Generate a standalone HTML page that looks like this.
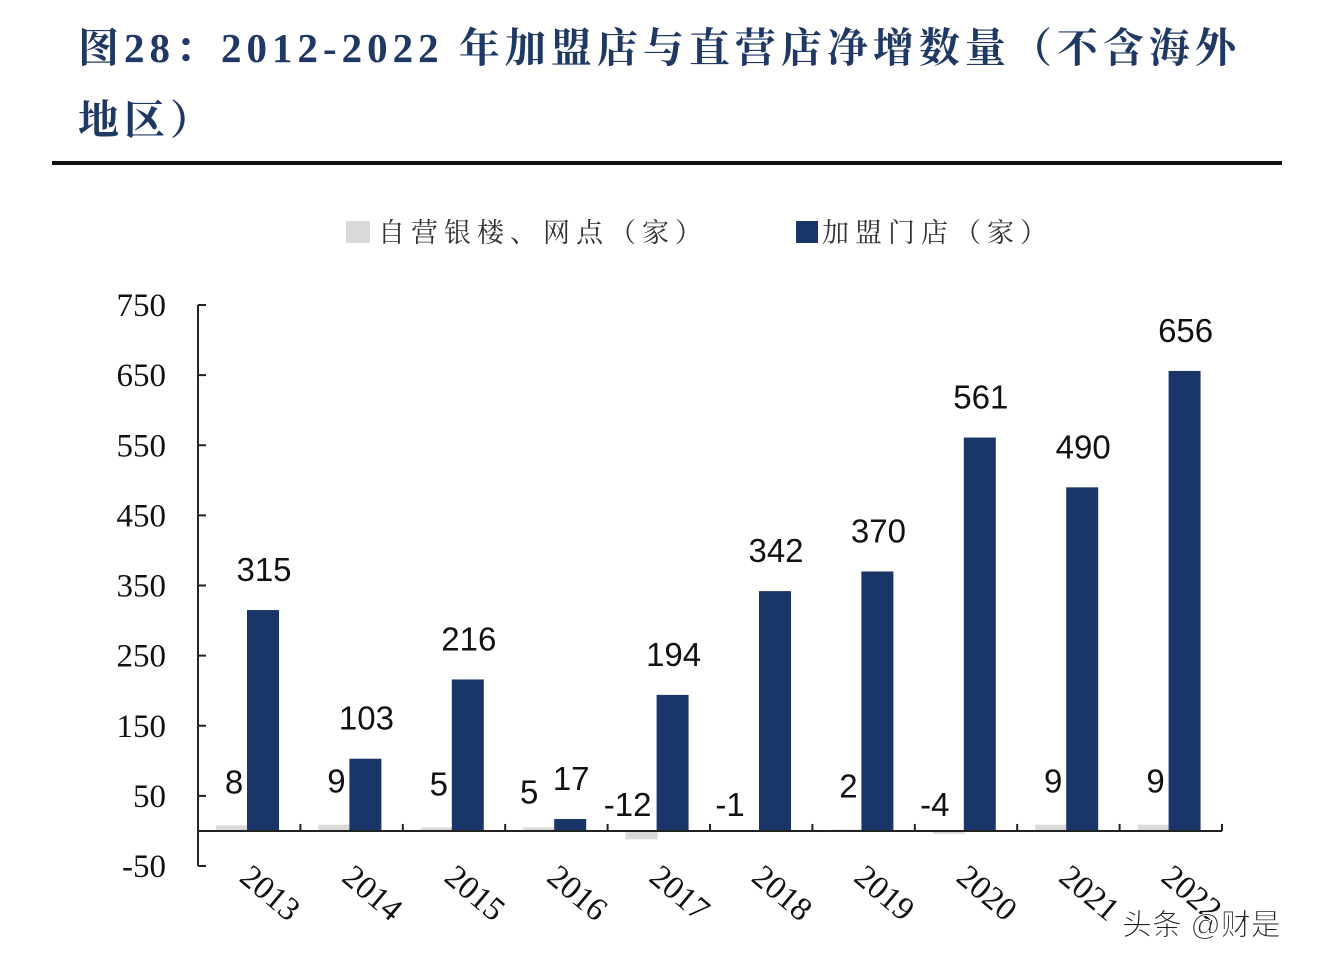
<!DOCTYPE html>
<html><head><meta charset="utf-8">
<style>
body{margin:0;background:#fff;width:1326px;height:968px;overflow:hidden;position:relative;font-family:"Liberation Serif","Noto Serif CJK SC",serif;}
#title{position:absolute;left:78px;top:12px;width:1240px;font-size:41px;font-weight:bold;color:#1f3864;line-height:72px;letter-spacing:5px;white-space:nowrap;}
#rule{position:absolute;left:52px;top:161px;width:1230px;height:4px;background:#111;}
</style></head><body>
<div id="title">图28：2012-2022 年加盟店与直营店净增数量（不含海外<br>地区）</div>
<div id="rule"></div>
<svg id="chart" width="1326" height="968" style="position:absolute;left:0;top:0"></svg>
<script>
const categories=["2013","2014","2015","2016","2017","2018","2019","2020","2021","2022"];
const directValues=[8,9,5,5,-12,-1,2,-4,9,9];
const franchiseValues=[315,103,216,17,194,342,370,561,490,656];
const yTicks=[750,650,550,450,350,250,150,50,-50];
const NS="http://www.w3.org/2000/svg";
const svg=document.getElementById('chart');
const x0=198,x1=1222,yTop=305,yBot=866,vMax=750,vMin=-50;
const y=v=>yTop+(vMax-v)*(yBot-yTop)/(vMax-vMin);
const bw=(x1-x0)/categories.length;
const xc=i=>x0+i*bw;
function mk(t,a){const e=document.createElementNS(NS,t);for(const k in a)e.setAttribute(k,a[k]);svg.appendChild(e);return e;}
let e=mk('rect',{x:346,y:221,width:24,height:22,fill:'#d9d9d9'});

e=mk('text',{x:378,y:242,'font-size':27,fill:'#333','letter-spacing':6});e.textContent='自营银楼、网点（家）';

e=mk('rect',{x:796,y:221,width:22,height:22,fill:'#1a3668'});

e=mk('text',{x:822,y:242,'font-size':27,fill:'#333','letter-spacing':6});e.textContent='加盟门店（家）';

e=mk('line',{x1:x0,y1:yTop,x2:x0,y2:yBot,stroke:'#222','stroke-width':2});

yTicks.forEach(t=>{
 const l=mk('line',{x1:x0,y1:y(t),x2:x0+8,y2:y(t),stroke:'#222','stroke-width':2});
 
 const tx=mk('text',{x:166,y:y(t)+11,'font-size':33,'text-anchor':'end',fill:'#111'});tx.textContent=t;
 
});
categories.forEach((c,i)=>{
 const dv=directValues[i],fv=franchiseValues[i];
 const g=mk('rect',{x:xc(i)+18,y:Math.min(y(dv),y(0)),width:32,height:Math.max(Math.abs(y(dv)-y(0)),1),fill:'#d9d9d9'});
 
 const b=mk('rect',{x:xc(i)+49,y:y(fv),width:32,height:y(0)-y(fv),fill:'#1a3668'});
 
 const ft=mk('text',{x:xc(i)+66,y:y(fv)-29,'font-size':33,'text-anchor':'middle',fill:'#111','font-family':'Liberation Sans, sans-serif'});ft.textContent=fv;
 
 const crowd=(fv-Math.max(dv,0))<60;
 const dy=dv>=0?y(dv)-32+(crowd?8:0):y(0)-15;
 const dx=dv<0?xc(i)+20:xc(i)+(crowd?24:36);
 const dt=mk('text',{x:dx,y:dy,'font-size':33,'text-anchor':'middle',fill:'#111','font-family':'Liberation Sans, sans-serif'});dt.textContent=dv;
 
 const tk=mk('line',{x1:xc(i),y1:y(0),x2:xc(i),y2:y(0)-7,stroke:'#222','stroke-width':2});
 
 const cx=xc(i)+40,cy=880;
 const ct=mk('text',{x:cx,y:cy,'font-size':33,fill:'#111',transform:`rotate(40 ${cx} ${cy})`});ct.textContent=c;
 
});
e=mk('line',{x1:x0,y1:y(0),x2:x1,y2:y(0),stroke:'#222','stroke-width':2});

e=mk('line',{x1:x1,y1:y(0),x2:x1,y2:y(0)-7,stroke:'#222','stroke-width':2});

e=mk('text',{x:1122,y:935,'font-size':30,fill:'#222','font-family':'Liberation Sans, Noto Sans CJK SC, sans-serif',stroke:'#fff','stroke-width':1});e.textContent='头条 @财是';

</script>
</body></html>
